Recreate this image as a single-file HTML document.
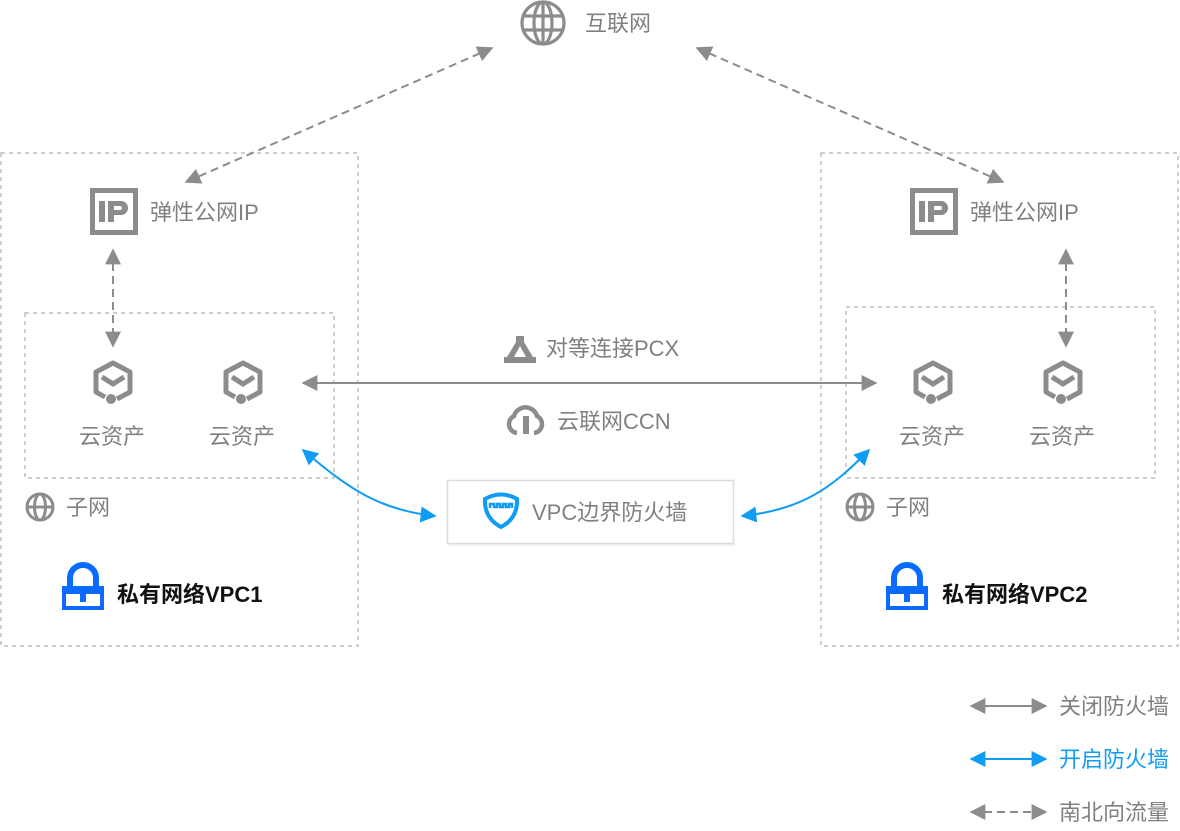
<!DOCTYPE html>
<html><head><meta charset="utf-8"><style>
html,body{margin:0;padding:0;background:#fff;}
svg text{font-family:"Liberation Sans","Noto Sans CJK SC",sans-serif;}
</style></head><body>
<svg width="1180" height="826" viewBox="0 0 1180 826" xmlns="http://www.w3.org/2000/svg">
<defs>
<marker id="ag" viewBox="0 0 10 10" refX="9" refY="5" markerWidth="16" markerHeight="16" markerUnits="userSpaceOnUse" orient="auto-start-reverse"><path d="M0,0 L10,5 L0,10 z" fill="#8c8c8c"/></marker>
<marker id="ab" viewBox="0 0 10 10" refX="9" refY="5" markerWidth="16" markerHeight="16" markerUnits="userSpaceOnUse" orient="auto-start-reverse"><path d="M0,0 L10,5 L0,10 z" fill="#0f9cf5"/></marker>
<g id="globe" fill="none" stroke="#8c8c8c" stroke-width="3"><circle cx="0" cy="0" r="13"/><ellipse cx="0" cy="0" rx="5.5" ry="13"/><line x1="-13" y1="0" x2="13" y2="0"/></g>
<g id="globeBig" fill="none" stroke="#8c8c8c" stroke-width="3.2"><circle cx="0" cy="0" r="21"/><ellipse cx="0" cy="0" rx="9" ry="21"/><line x1="-21" y1="-7" x2="21" y2="-7"/><line x1="-21" y1="7" x2="21" y2="7"/><line x1="0" y1="-21" x2="0" y2="21"/></g>
<g id="ip"><rect x="0" y="0" width="48" height="47" fill="#8c8c8c"/><rect x="5" y="5" width="38" height="37" fill="#fff"/><rect x="9" y="13" width="6" height="21" fill="#8c8c8c"/><path d="M18,13 h13 a7,7 0 0 1 0,14 h-7 v7 h-6 z M24,18 v4 h6 a2,2 0 0 0 0,-4 z" fill="#8c8c8c" fill-rule="evenodd"/></g>
<g id="asset"><path d="M4,17 L17,10 L17,-10 L0,-19 L-17,-10 L-17,10 L-8,15" fill="none" stroke="#8c8c8c" stroke-width="5" stroke-linejoin="round"/><path d="M-11,-5 L0,2 L11,-5" fill="none" stroke="#8c8c8c" stroke-width="5"/><circle cx="-2" cy="17" r="5" fill="#8c8c8c"/></g>
<g id="lock"><path d="M-13,0 v-8 a13,13 0 0 1 26,0 v8" fill="none" stroke="#0a6cff" stroke-width="6"/><rect x="-21" y="0" width="42" height="24" fill="#0a6cff"/><rect x="-17" y="8" width="34" height="12" fill="#fff"/><rect x="-3" y="8" width="6" height="8" fill="#0a6cff"/></g>
</defs>

<g fill="none" stroke="#bdbdbd" stroke-width="1.5" stroke-dasharray="4,4">
<rect x="1" y="153" width="357" height="493"/>
<rect x="821" y="153" width="357" height="493"/>
<rect x="25" y="313" width="309" height="165"/>
<rect x="846" y="307" width="309" height="171"/>
</g>

<use href="#globeBig" x="543" y="23"/>
<text x="585" y="31" font-size="22" fill="#808080">互联网</text>

<line x1="492" y1="48" x2="186" y2="182" stroke="#8c8c8c" stroke-width="2" stroke-dasharray="8,5" marker-start="url(#ag)" marker-end="url(#ag)"/>
<line x1="697" y1="48" x2="1003" y2="182" stroke="#8c8c8c" stroke-width="2" stroke-dasharray="8,5" marker-start="url(#ag)" marker-end="url(#ag)"/>

<use href="#ip" x="90" y="188"/>
<text x="150" y="220" font-size="22" fill="#808080">弹性公网IP</text>
<use href="#ip" x="910" y="188"/>
<text x="970" y="220" font-size="22" fill="#808080">弹性公网IP</text>

<line x1="113" y1="250" x2="113" y2="346" stroke="#8c8c8c" stroke-width="2" stroke-dasharray="8,5" marker-start="url(#ag)" marker-end="url(#ag)"/>
<line x1="1066" y1="250" x2="1066" y2="346" stroke="#8c8c8c" stroke-width="2" stroke-dasharray="8,5" marker-start="url(#ag)" marker-end="url(#ag)"/>

<use href="#asset" x="113" y="382"/><use href="#asset" x="243" y="382"/>
<use href="#asset" x="933" y="382"/><use href="#asset" x="1063" y="382"/>
<g font-size="22" fill="#808080">
<text x="79" y="444">云资产</text><text x="209" y="444">云资产</text>
<text x="899" y="444">云资产</text><text x="1029" y="444">云资产</text>
</g>

<line x1="303" y1="383" x2="876" y2="383" stroke="#8c8c8c" stroke-width="2" marker-start="url(#ag)" marker-end="url(#ag)"/>
<path d="M516,336 h8 v6 l9,15 h3 v6 h-32 v-6 h3 l9,-15 z M520,346 l-6,11 h12 z" fill="#8c8c8c" fill-rule="evenodd"/>
<text x="546" y="356" font-size="22" fill="#808080">对等连接PCX</text>
<path d="M517,433 a9,9 0 0 1 -3,-17 a12,12 0 0 1 23,0 a9,9 0 0 1 -3,17" fill="none" stroke="#8c8c8c" stroke-width="4.5"/>
<rect x="523" y="416" width="6" height="18" fill="#8c8c8c"/>
<text x="557" y="429" font-size="22" fill="#808080">云联网CCN</text>

<rect x="447.5" y="480.5" width="286" height="63" fill="#fff" stroke="#dcdcdc" stroke-width="1.5"/>
<line x1="449" y1="545" x2="735" y2="545" stroke="#eeeeee" stroke-width="2"/>
<path d="M485,499 q16,-9 32,0 q1,19 -16,28 q-17,-9 -16,-28 z" fill="none" stroke="#0f9cf5" stroke-width="4"/>
<path d="M490,508 v-4 h4 v3 h3 v-3 h3 v3 h3 v-3 h3 v3 h3 v-3 h3 v4" fill="none" stroke="#0f9cf5" stroke-width="2.5"/>
<text x="532" y="520" font-size="22" fill="#808080">VPC边界防火墙</text>

<path d="M303,450 C350,490 380,510 435,516" fill="none" stroke="#0f9cf5" stroke-width="2" marker-start="url(#ab)" marker-end="url(#ab)"/>
<path d="M869,450 C830,490 800,510 742,516" fill="none" stroke="#0f9cf5" stroke-width="2" marker-start="url(#ab)" marker-end="url(#ab)"/>

<use href="#globe" x="40" y="507"/><text x="66" y="515" font-size="22" fill="#808080">子网</text>
<use href="#globe" x="860" y="507"/><text x="886" y="515" font-size="22" fill="#808080">子网</text>

<use href="#lock" x="83" y="586"/>
<text x="117" y="602" font-size="22" fill="#111" font-weight="bold">私有网络VPC1</text>
<use href="#lock" x="907" y="586"/>
<text x="942" y="602" font-size="22" fill="#111" font-weight="bold">私有网络VPC2</text>

<line x1="971" y1="706" x2="1046" y2="706" stroke="#8c8c8c" stroke-width="2" marker-start="url(#ag)" marker-end="url(#ag)"/>
<text x="1059" y="714" font-size="22" fill="#808080">关闭防火墙</text>
<line x1="971" y1="759" x2="1046" y2="759" stroke="#0f9cf5" stroke-width="2" marker-start="url(#ab)" marker-end="url(#ab)"/>
<text x="1059" y="767" font-size="22" fill="#0f9cf5">开启防火墙</text>
<line x1="971" y1="812" x2="1046" y2="812" stroke="#8c8c8c" stroke-width="2" stroke-dasharray="8,5" marker-start="url(#ag)" marker-end="url(#ag)"/>
<text x="1059" y="820" font-size="22" fill="#808080">南北向流量</text>
</svg>
</body></html>
